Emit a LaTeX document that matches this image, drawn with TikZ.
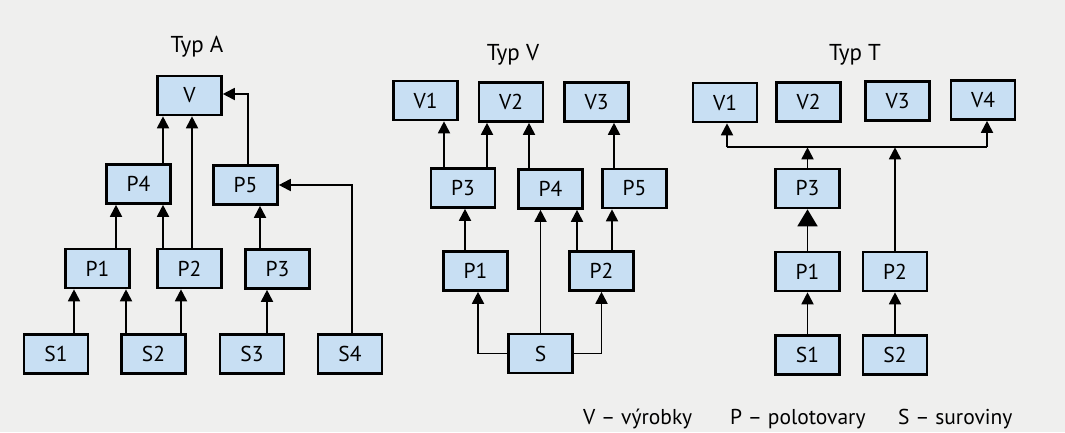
\documentclass[tikz,border=0pt]{standalone}
\usepackage{fontspec}
\setmainfont{PT Sans}
\usetikzlibrary{arrows.meta}
\definecolor{paper}{RGB}{239,239,238}
\definecolor{boxfill}{RGB}{200,223,243}
\tikzset{
  item/.style={draw=black, line width=2.6pt, fill=boxfill, minimum width=64pt,
    minimum height=39pt, inner sep=0pt, font=\fontsize{21.5}{21.5}\selectfont},
  arr/.style={line width=1.8pt, -{Triangle[width=12pt,length=12pt]}},
  bigarr/.style={line width=1.8pt, -{Triangle[width=20pt,length=17pt]}},
  line/.style={line width=1.8pt},
  title/.style={font=\fontsize{23}{23}\selectfont, anchor=base},
  legend/.style={font=\fontsize{21.5}{21.5}\selectfont, anchor=base west, inner sep=0pt},
}
\begin{document}
\begin{tikzpicture}[x=1pt,y=-1pt]
\fill[paper] (0,0) rectangle (1065,432);
\useasboundingbox (0,0) rectangle (1065,432);

% ---------- Typ A ----------
\node[title] (tA) at (197,52) {Typ A};
\node[item] (aV)  at (189.5,95.5) {V};
\node[item] (aP4) at (138.5,184)  {P4};
\node[item] (aP5) at (245.5,185)  {P5};
\node[item] (aP1) at (97.5,268.5) {P1};
\node[item] (aP2) at (189.5,268.5) {P2};
\node[item] (aP3) at (277.5,269)  {P3};
\node[item] (aS1) at (56,354)     {S1};
\node[item] (aS2) at (153.5,354)  {S2};
\node[item] (aS3) at (252,354)    {S3};
\node[item] (aS4) at (350,354)    {S4};

\draw[arr] ([xshift=18pt]aS1.north)   -- ([xshift=18pt]aS1.north |- aP1.south);
\draw[arr] ([xshift=-27.5pt]aS2.north) -- ([xshift=-27.5pt]aS2.north |- aP1.south);
\draw[arr] ([xshift=27.5pt]aS2.north) -- ([xshift=27.5pt]aS2.north |- aP2.south);
\draw[arr] ([xshift=15pt]aS3.north)   -- ([xshift=15pt]aS3.north |- aP3.south);
\draw[arr] ([xshift=18.5pt]aP1.north) -- ([xshift=18.5pt]aP1.north |- aP4.south);
\draw[arr] ([xshift=-26.5pt]aP2.north) -- ([xshift=-26.5pt]aP2.north |- aP4.south);
\draw[arr] ([xshift=2.5pt]aP2.north)  -- ([xshift=2.5pt]aP2.north |- aV.south);
\draw[arr] ([xshift=24.5pt]aP4.north) -- ([xshift=24.5pt]aP4.north |- aV.south);
\draw[arr] ([xshift=14.5pt]aP5.south |- aP3.north) -- ([xshift=14.5pt]aP5.south);
\draw[arr] ([xshift=2.5pt]aP5.north) |- ([yshift=1.5pt]aV.east);
\draw[arr] ([xshift=2pt]aS4.north) |- (aP5.east);

% ---------- Typ V ----------
\node[title] (tV) at (513,60) {Typ V};
\node[item] (vV1) at (425.5,100.5) {V1};
\node[item] (vV2) at (511,102)     {V2};
\node[item] (vV3) at (596.5,102)   {V3};
\node[item] (vP3) at (463,188)     {P3};
\node[item] (vP4) at (550.5,189)   {P4};
\node[item] (vP5) at (634.5,188.5) {P5};
\node[item] (vP1) at (475.5,271)   {P1};
\node[item] (vP2) at (601.5,271)   {P2};
\node[item] (vS)  at (540.5,353.5) {S};

\draw[arr] ([xshift=-19pt]vP3.north)   -- ([xshift=-19pt]vP3.north |- vV1.south);
\draw[arr] ([xshift=24pt]vP3.north)    -- ([xshift=24pt]vP3.north |- vV2.south);
\draw[arr] ([xshift=-21.5pt]vP4.north) -- ([xshift=-21.5pt]vP4.north |- vV2.south);
\draw[arr] ([xshift=-20.5pt]vP5.north) -- ([xshift=-20.5pt]vP5.north |- vV3.south);
\draw[arr] ([xshift=-10.5pt]vP1.north) -- ([xshift=-10.5pt]vP1.north |- vP3.south);
\draw[arr] (vS.north) -- (vS.north |- vP4.south);
\draw[arr] ([xshift=-24.5pt]vP2.north) -- ([xshift=-24.5pt]vP2.north |- vP4.south);
\draw[arr] ([xshift=10.5pt]vP2.north)  -- ([xshift=10.5pt]vP2.north |- vP5.south);
\draw[arr] (vS.west) -| ([xshift=2.5pt]vP1.south);
\draw[arr] (vS.east) -| (vP2.south);

% ---------- Typ T ----------
\node[title] (tT) at (855,60) {Typ T};
\node[item] (tV1) at (725,102.5)   {V1};
\node[item] (tV2) at (808.5,102)   {V2};
\node[item] (tV3) at (897.5,101)   {V3};
\node[item] (tV4) at (983,100)     {V4};
\node[item] (tP3) at (807.5,188.5) {P3};
\node[item] (tP1) at (807.5,271.5) {P1};
\node[item] (tP2) at (895,271.5)   {P2};
\node[item] (tS1) at (807.5,355)   {S1};
\node[item] (tS2) at (895,355)     {S2};

\coordinate (busL) at ([xshift=2pt,yshift=-24pt]tV1.south);
\coordinate (busR) at ([xshift=4pt]tV4.south |- busL);
\draw[line] (busL) -- (busR);
\draw[arr] (busL) -- ([xshift=2pt]tV1.south);
\draw[arr] (busR) -- ([xshift=4pt]tV4.south);
\draw[arr] (tP3.north) -- (tP3.north |- busL);
\draw[arr] (tP2.north) -- (tP2.north |- busL);
\draw[bigarr] (tP1.north) -- (tP3.south);
\draw[arr] (tS1.north) -- (tS1.north |- tP1.south);
\draw[arr] (tS2.north) -- (tS2.north |- tP2.south);

% ---------- legend ----------
\node[legend] (lV) at (583,424) {V – výrobky};
\node[legend] (lP) at (730,424) {P – polotovary};
\node[legend] (lS) at (898,424) {S – suroviny};
\end{tikzpicture}
\end{document}
